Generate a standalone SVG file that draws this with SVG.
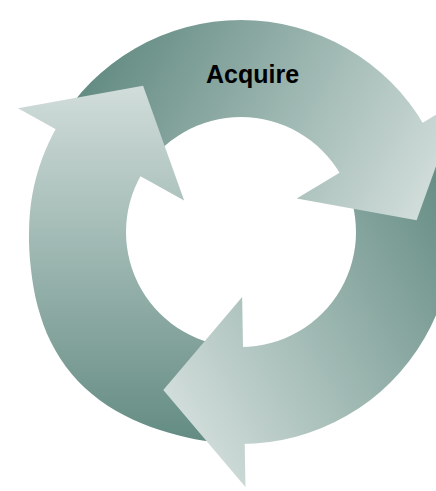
<svg xmlns="http://www.w3.org/2000/svg" width="436" height="491" viewBox="0 0 436 491">
  <style>
    .label { font-family: "Liberation Sans", Arial, sans-serif; font-weight: bold; font-size: 25px; fill: #000; }
  </style>
  <defs>
    <linearGradient id="g" gradientUnits="userSpaceOnUse" x1="0" y1="86" x2="0" y2="440">
      <stop offset="0" stop-color="#d1ddda"/>
      <stop offset="1" stop-color="#648c83"/>
    </linearGradient>
    <path id="body" d="M 241 444 A 212 212 0 0 1 57.40 126 L 141.41 174.5 A 115 115 0 0 0 241 347 Z"/>
    <path id="head" d="M 17.97 108.37 L 143.09 85.75 L 184.15 200.49 Z"/>
  </defs>
  <rect width="436" height="491" fill="#ffffff"/>
  <g id="connectors">
    <path fill="url(#g)" d="M 241 444 C 228.73 444 216.35 442.71 204.19 440.78 C 192.03 438.86 179.95 436.0 168.04 432.45 C 156.13 428.9 144.13 424.86 132.75 419.50 C 121.38 414.14 109.97 407.86 99.79 400.29 C 89.62 392.72 79.87 383.8 71.70 374.06 C 63.53 364.32 56.44 353.18 50.75 341.84 C 45.06 330.51 40.87 318.18 37.56 306.05 C 34.26 293.92 32.35 281.38 30.92 269.04 C 29.49 256.7 28.78 244.31 29 232 C 29.22 219.69 30.09 207.28 32.22 195.19 C 34.35 183.11 37.59 171.02 41.79 159.49 C 45.99 147.96 51.27 136.63 57.40 126 L 141.41 174.5 A 115 115 0 0 0 241 347 Z"/>
    <use href="#body" fill="url(#g)" transform="rotate(120 241 232)"/>
    <use href="#body" fill="url(#g)" transform="rotate(240 241 232)"/>
  </g>
  <g id="arrow-left">
    <use href="#head" fill="url(#g)"/>
  </g>
  <g id="arrow-top">
    <use href="#head" fill="url(#g)" transform="rotate(120 241 232)"/>
  </g>
  <g id="arrow-bottom">
    <use href="#head" fill="url(#g)" transform="rotate(240 241 232)"/>
  </g>
  <g id="acquire">
    <text class="label" x="252.5" y="83" text-anchor="middle">Acquire</text>
  </g>
</svg>
